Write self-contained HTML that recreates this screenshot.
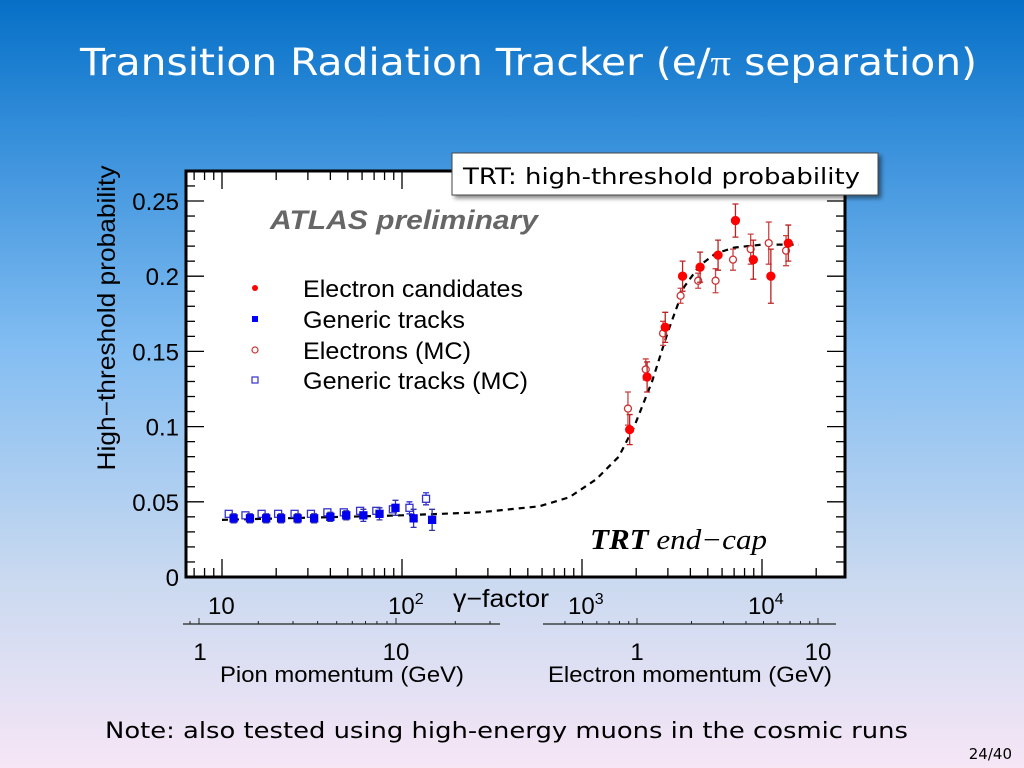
<!DOCTYPE html>
<html><head><meta charset="utf-8"><style>
html,body{margin:0;padding:0;width:1024px;height:768px;overflow:hidden}
svg{display:block}
</style></head><body>
<svg id="s" width="1024" height="768" viewBox="0 0 1024 768" xmlns="http://www.w3.org/2000/svg">
<defs>
<linearGradient id="bg" x1="0" y1="0" x2="0" y2="1">
<stop offset="0" stop-color="#0670c6"/><stop offset="0.15" stop-color="#2e8ad8"/>
<stop offset="0.45" stop-color="#82bdf2"/><stop offset="0.75" stop-color="#c9d9f0"/>
<stop offset="1" stop-color="#f6e6f6"/></linearGradient>
<filter id="sh" x="-10%" y="-10%" width="130%" height="140%"><feDropShadow dx="3" dy="3" stdDeviation="2" flood-opacity="0.45"/></filter>
</defs>
<rect width="1024" height="768" fill="url(#bg)"/>
<text x="80" y="75" fill="#fff" font-family="DejaVu Sans, sans-serif" font-size="37" textLength="897" lengthAdjust="spacingAndGlyphs">Transition Radiation Tracker (e/<tspan font-family="Liberation Serif, serif">π</tspan> separation)</text>
<rect x="186" y="171" width="659" height="406" fill="#fff"/>
<g id="ticks"></g>
<g id="curve"></g>
<g id="marks"></g>
<rect x="186" y="171" width="659" height="406" fill="none" stroke="#000" stroke-width="3"/>
<text x="270" y="229" fill="#666" font-family="Liberation Sans, sans-serif" font-style="italic" font-weight="bold" font-size="27" textLength="268" lengthAdjust="spacingAndGlyphs">ATLAS preliminary</text>
<g font-family="Liberation Sans, sans-serif" font-size="24" fill="#000">
<circle cx="255" cy="288" r="3" fill="#f00"/>
<text x="303" y="297" textLength="220" lengthAdjust="spacingAndGlyphs">Electron candidates</text>
<rect x="252" y="316" width="6" height="6" fill="#00f"/>
<text x="303" y="328" textLength="162" lengthAdjust="spacingAndGlyphs">Generic tracks</text>
<circle cx="255" cy="350" r="3" fill="none" stroke="#c33" stroke-width="1.2"/>
<text x="303" y="359" textLength="168" lengthAdjust="spacingAndGlyphs">Electrons (MC)</text>
<rect x="252" y="377" width="6" height="6" fill="none" stroke="#33c" stroke-width="1.2"/>
<text x="303" y="389" textLength="225" lengthAdjust="spacingAndGlyphs">Generic tracks (MC)</text>
</g>
<text x="590" y="549" font-family="Liberation Serif, serif" font-style="italic" font-size="28" textLength="177" lengthAdjust="spacingAndGlyphs"><tspan font-weight="bold">TRT</tspan> end−cap</text>
<g font-family="Liberation Sans, sans-serif" font-size="24" fill="#000" text-anchor="end" id="ylabels"></g>
<text transform="translate(115,318) rotate(-90)" text-anchor="middle" font-family="Liberation Sans, sans-serif" font-size="25" fill="#000" textLength="305" lengthAdjust="spacingAndGlyphs">High−threshold probability</text>
<g font-family="Liberation Sans, sans-serif" font-size="24" fill="#000" id="xlabels"></g>
<text x="453" y="607" font-family="Liberation Sans, sans-serif" font-size="25" fill="#000" textLength="96" lengthAdjust="spacingAndGlyphs">γ−factor</text>
<g id="paxes"></g>
<g font-family="Liberation Sans, sans-serif" font-size="24" fill="#000">
<text x="200" y="660" text-anchor="middle">1</text>
<text x="396" y="660" text-anchor="middle">10</text>
<text x="220" y="682" textLength="244" lengthAdjust="spacingAndGlyphs" font-size="22">Pion momentum (GeV)</text>
<text x="637" y="660" text-anchor="middle">1</text>
<text x="818" y="660" text-anchor="middle">10</text>
<text x="548" y="682" textLength="284" lengthAdjust="spacingAndGlyphs" font-size="22">Electron momentum (GeV)</text>
</g>
<g filter="url(#sh)">
<rect x="452" y="153" width="426" height="42" fill="#fff" stroke="#444" stroke-width="1"/>
<text x="463" y="184" font-family="DejaVu Sans, sans-serif" font-size="22" fill="#000" textLength="397" lengthAdjust="spacingAndGlyphs">TRT: high-threshold probability</text>
</g>
<text x="105" y="738" font-family="DejaVu Sans, sans-serif" font-size="22" fill="#000" textLength="803" lengthAdjust="spacingAndGlyphs">Note: also tested using high-energy muons in the cosmic runs</text>
<text x="1012" y="759" text-anchor="end" font-family="DejaVu Sans, sans-serif" font-size="15" fill="#000">24/40</text>
</svg>
<script>
// data (x = gamma-factor, y = probability)
const blueGamma=[11.6,14.3,17.6,21.3,26.3,32.5,40,49,61,75,92,116,147];
const blueVal=[0.039,0.039,0.039,0.039,0.039,0.039,0.040,0.041,0.041,0.042,0.046,0.039,0.038];
const blueErr=[0.003,0.003,0.003,0.003,0.003,0.003,0.003,0.003,0.004,0.004,0.005,0.006,0.007];
const blueMcGamma=[10.9,13.5,16.6,20.5,25.3,31.2,38.5,47.5,58.5,72,89,110,136];
const blueMcVal=[0.042,0.041,0.042,0.042,0.042,0.042,0.043,0.043,0.044,0.044,0.045,0.046,0.052];
const blueMcErr=[0.002,0.002,0.002,0.002,0.002,0.002,0.002,0.002,0.002,0.002,0.002,0.004,0.004];
const redGamma=[1840,2300,2900,3620,4530,5700,7120,8950,11200,14000];
const redVal=[0.098,0.133,0.166,0.200,0.206,0.214,0.237,0.211,0.200,0.222];
const redErr=[0.010,0.010,0.010,0.010,0.010,0.010,0.011,0.013,0.018,0.012];
const redMcGamma=[1800,2260,2820,3530,4420,5520,6900,8650,10900,13600];
const redMcVal=[0.112,0.138,0.162,0.187,0.197,0.197,0.211,0.218,0.222,0.217];
const redMcErr=[0.011,0.007,0.008,0.005,0.005,0.008,0.007,0.010,0.014,0.010];
const fitGamma=[10,100,270,580,850,1200,1600,1950,2450,3000,3700,4500,5500,7000,10000,16000];
const fitVal=[0.038,0.041,0.043,0.047,0.053,0.065,0.080,0.100,0.130,0.163,0.193,0.207,0.215,0.219,0.221,0.221];
const yTicks=[0,0.05,0.1,0.15,0.2,0.25];
const yTickLabels=["0","0.05","0.1","0.15","0.2","0.25"];
const xTicks=[10,100,1000,10000];
const xTickBase=["10","10","10","10"];
const xTickExp=["","2","3","4"];

const NS="http://www.w3.org/2000/svg";
const X0=186,X1=845,Y0=577,Y1=171;
function xs(g){return 222+180*(Math.log10(g)-1);}
function ys(v){return 577-v*1504;}
function mk(tag,attrs,parent){const e=document.createElementNS(NS,tag);for(const k in attrs)e.setAttribute(k,attrs[k]);parent.appendChild(e);return e;}
const T=document.getElementById('ticks');
for(let i=0;i<=26;i++){const v=i*0.01,y=ys(v);if(y<Y1)break;const L=i%5==0?18:9;
 const a=mk('line',{x1:X0,y1:y,x2:X0+L,y2:y,stroke:'#000','stroke-width':1.3},T);
 
 const b=mk('line',{x1:X1-L,y1:y,x2:X1,y2:y,stroke:'#000','stroke-width':1.3},T);
 }
for(let d=0;d<5;d++)for(let m=1;m<10;m++){const g=m*Math.pow(10,d);const x=xs(g);if(x<X0||x>X1)continue;const L=m==1?18:9;
 const a=mk('line',{x1:x,y1:Y0,x2:x,y2:Y0-L,stroke:'#000','stroke-width':1.3},T);
 
 const b=mk('line',{x1:x,y1:Y1,x2:x,y2:Y1+L,stroke:'#000','stroke-width':1.3},T);
 }
const YL=document.getElementById('ylabels');
yTicks.forEach((v,i)=>{const t=mk('text',{x:179,y:ys(v)+9},YL);t.textContent=yTickLabels[i];
 });
const XL=document.getElementById('xlabels');
xTicks.forEach((g,i)=>{const t=mk('text',{x:xs(g)-14,y:614},XL);t.textContent=xTickBase[i];
 
 if(xTickExp[i]){const s=mk('tspan',{dy:-10,'font-size':16},t);s.textContent=xTickExp[i];}});
const P=document.getElementById('paxes');
function paxis(xa,xb,one,dec,name){const l=mk('line',{x1:xa,y1:624,x2:xb,y2:624,stroke:'#222','stroke-width':1.2},P);
 
 for(let d=-1;d<2;d++)for(let m=1;m<10;m++){const x=one+dec*(d+Math.log10(m));if(x<xa||x>xb)continue;
  const t=mk('line',{x1:x,y1:624,x2:x,y2:624-(m==1?6:3),stroke:'#222','stroke-width':1},P);
  }}
paxis(183,500,199,197,'pion-momentum-axis');paxis(543,836,637,181,'electron-momentum-axis');
const C=document.getElementById('curve');
const pl=mk('polyline',{points:fitGamma.map((g,i)=>xs(g)+','+ys(fitVal[i])).join(' '),fill:'none',stroke:'#000','stroke-width':2.2,'stroke-dasharray':'6,5'},C);

const M=document.getElementById('marks');
function series(gs,vs,es,col,ecol,type,filled,name){gs.forEach((g,i)=>{const x=xs(g),y=ys(vs[i]),e=es[i]*1504;
 const eb=mk('path',{d:`M${x},${y-e}V${y+e}M${x-3},${y-e}h6M${x-3},${y+e}h6`,stroke:ecol,'stroke-width':1.3,fill:'none'},M);
 
 let p;if(type=='c')p=mk('circle',{cx:x,cy:y,r:filled?4:3.5,fill:filled?col:'#fff',stroke:col,'stroke-width':1.3},M);
 else p=mk('rect',{x:x-3.5,y:y-3.5,width:7,height:7,fill:filled?col:'#fff',stroke:col,'stroke-width':1.3},M);
 });}
series(blueMcGamma,blueMcVal,blueMcErr,'#33c','#33c','s',false,'generic-tracks-mc');
series(blueGamma,blueVal,blueErr,'#00e','#33a','s',true,'generic-tracks');
series(redMcGamma,redMcVal,redMcErr,'#c33','#c44','c',false,'electrons-mc');
series(redGamma,redVal,redErr,'#f00','#b22','c',true,'electron-candidates');
</script>
</body></html>
